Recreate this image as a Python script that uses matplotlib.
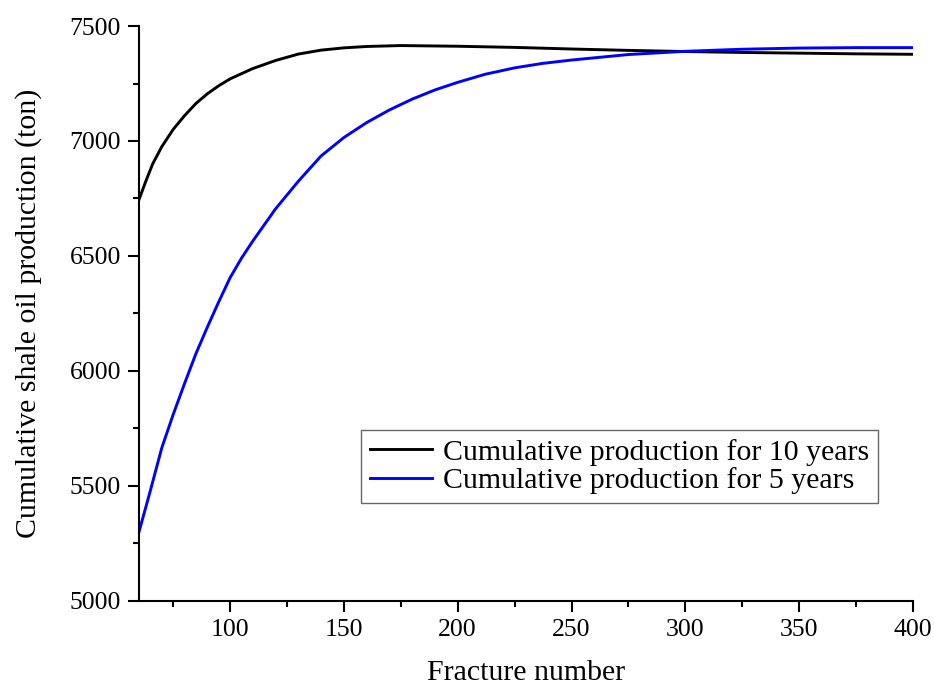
import matplotlib
matplotlib.use("Agg")
import matplotlib.pyplot as plt
from matplotlib.ticker import MultipleLocator

# fracture number vs cumulative production
x_10y = [60, 63, 66, 70, 75, 80, 85, 90, 95, 100, 110, 120, 130, 140, 150, 160, 175,
         200, 225, 250, 275, 300, 325, 350, 375, 400]
prod_10y = [6745, 6825, 6900, 6975, 7050, 7110, 7163, 7205, 7240, 7270, 7315, 7350,
            7378, 7395, 7405, 7411, 7415, 7412, 7407, 7400, 7394, 7389, 7385, 7382,
            7379, 7377]

x_5y = [60, 65, 70, 75, 80, 85, 90, 95, 100, 105, 110, 115, 120, 130, 140, 150,
        160, 170, 180, 190, 200, 212, 225, 237, 250, 275, 300, 325, 350, 375, 400]
prod_5y = [5300, 5480, 5665, 5810, 5945, 6075, 6190, 6300, 6405, 6490, 6565, 6635,
           6705, 6825, 6935, 7015, 7080, 7135, 7182, 7222, 7255, 7290, 7318, 7337,
           7352, 7376, 7390, 7399, 7404, 7406, 7406]

labels = ["Cumulative production for 10 years", "Cumulative production for 5 years"]

plt.rcParams["font.family"] = "Liberation Serif"

fig = plt.figure(figsize=(9.34, 6.88), dpi=100)
ax = fig.add_axes([0.1488, 0.1265, 0.8287, 0.8357])

ax.plot(x_10y, prod_10y, color="black", lw=2.1, label=labels[0])
ax.plot(x_5y, prod_5y, color="blue", lw=2.1, label=labels[1])

ax.set_xlim(60, 400)
ax.set_ylim(5000, 7500)
ax.xaxis.set_major_locator(MultipleLocator(50))
ax.xaxis.set_minor_locator(MultipleLocator(25))
ax.yaxis.set_major_locator(MultipleLocator(500))
ax.yaxis.set_minor_locator(MultipleLocator(250))
ax.spines["top"].set_visible(False)
ax.spines["right"].set_visible(False)
for s in ("left", "bottom"):
    ax.spines[s].set_linewidth(1.5)
ax.tick_params(which="major", direction="out", length=8, width=1.5, labelsize=18.5, pad=5)
ax.tick_params(which="minor", direction="out", length=4.3, width=1.5)

ax.set_xlabel("Fracture number", fontsize=21.5, labelpad=14)
ax.set_ylabel("Cumulative shale oil production (ton)", fontsize=21.5, labelpad=20)

leg = ax.legend(loc="lower right", bbox_to_anchor=(0.955, 0.17), fontsize=21.5,
                fancybox=False, framealpha=1, edgecolor="#666666",
                handlelength=2.1, handletextpad=0.35, borderpad=0.3,
                labelspacing=0.05, borderaxespad=0)
leg.get_frame().set_linewidth(1.0)

fig.savefig("out.png", dpi=100)
